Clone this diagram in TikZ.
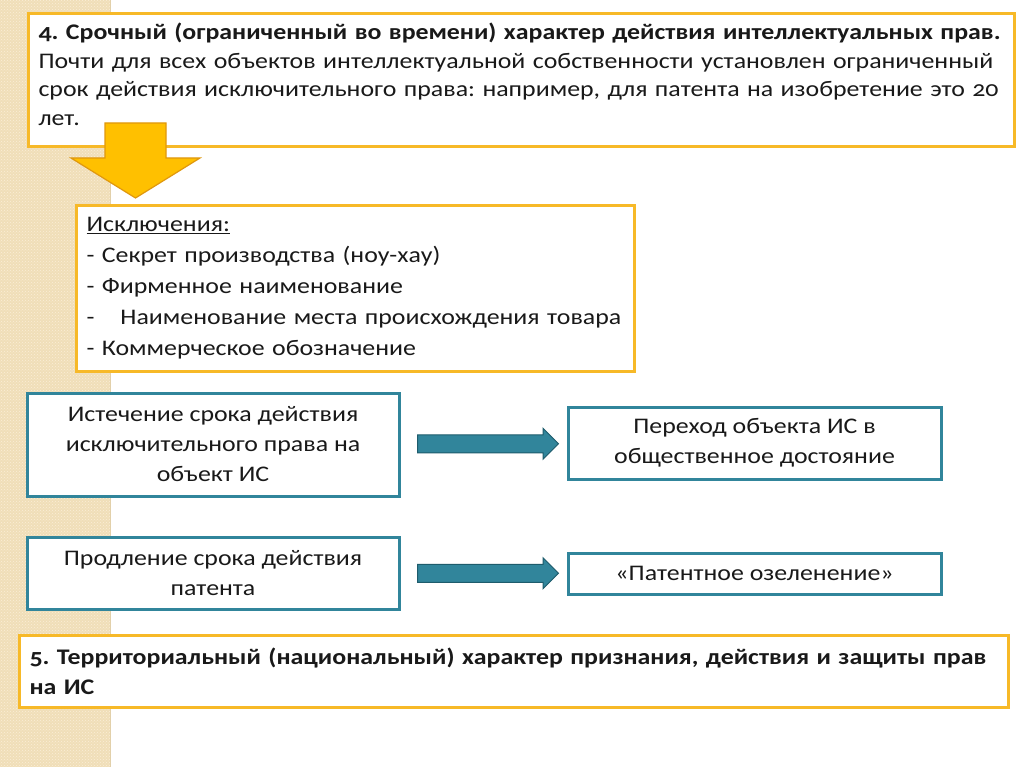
\documentclass[tikz,border=0pt]{standalone}
\usepackage{fontspec}
\setmainfont{Carlito}[Numbers=OldStyle, FakeStretch=1.16]
\usepackage{xcolor}
\usepackage{tikz}
\usetikzlibrary{calc,shapes.arrows,patterns}
\definecolor{ink}{RGB}{25, 25, 25}
\definecolor{gold}{RGB}{247, 185, 40}
\definecolor{sea}{RGB}{49, 133, 155}
\definecolor{seadark}{RGB}{30, 92, 108}
\definecolor{amber}{RGB}{255, 192, 0}
\definecolor{amberdark}{RGB}{224, 152, 14}
\definecolor{sand}{RGB}{240, 222, 184}
\definecolor{sanddot}{RGB}{250, 239, 215}
\definecolor{sandline}{RGB}{226, 208, 170}
\frenchspacing

\tikzset{
  goldbox/.style={draw=gold, line width=3pt, fill=white, text=ink, align=left,
    anchor=north west, inner xsep=10pt, inner ysep=0pt},
  seabox/.style={draw=sea, line width=3pt, fill=white, text=ink, align=center,
    inner sep=0pt},
  seaarrow/.style={single arrow, draw=seadark, fill=sea, line width=1pt,
    minimum height=141pt, inner xsep=0pt, inner ysep=8.5pt,
    single arrow head extend=6.5pt, single arrow tip angle=90},
  amberarrow/.style={draw=amberdark, fill=amber, line width=1.2pt, line join=miter},
}

\begin{document}
\begin{tikzpicture}[x=1pt,y=-1pt]
\useasboundingbox (0,0) rectangle (1024,767);
\fill[white] (0,0) rectangle (1024,767);
% left stripe
\fill[sand] (0,0) rectangle (110,767);
\fill[pattern=crosshatch dots, pattern color=sanddot] (0,0) rectangle (110,767);
\draw[sandline,line width=1pt] (110,0) -- (110,767);

% term of the rights
\node[goldbox, minimum width=985pt, minimum height=133pt, text width=966pt,
  font=\fontsize{22.3}{28.5}\selectfont] (term) at (27,12)
  {\textbf{4. Срочный (ограниченный во времени) характер действия интеллектуальных прав.}\\
   Почти для всех объектов интеллектуальной собственности установлен ограниченный\\
   срок действия исключительного права: например, для патента на изобретение это 20\\
   лет.\par\vspace{11pt}};
\draw[amberarrow] (105,123) -- (166,123) -- (166,158) -- (200,158) -- (135.5,198)
  -- (71,158) -- (105,158) -- cycle;

% exceptions
\node[goldbox, minimum width=558pt, minimum height=166pt, text width=538pt,
  font=\fontsize{22.3}{31}\selectfont] (exc) at (75,204)
  {\underline{Исключения:}\\
   - Секрет производства (ноу-хау)\\
   - Фирменное наименование\\
   \makebox[34pt][l]{-}Наименование места происхождения товара\\
   - Коммерческое обозначение};

% consequences
\node[seabox, minimum width=372pt, minimum height=103pt,
  font=\fontsize{22.3}{30}\selectfont] (expiry) at (213,444.5)
  {Истечение срока действия\\ исключительного права на\\ объект ИС};
\node[seabox, minimum width=373pt, minimum height=72pt,
  font=\fontsize{22.3}{30}\selectfont] (public) at (754.5,443)
  {Переход объекта ИС в\\ общественное достояние};
\node[seabox, minimum width=372pt, minimum height=72pt,
  font=\fontsize{22.3}{30}\selectfont] (renew) at (213,573)
  {Продление срока действия\\ патента};
\node[seabox, minimum width=373pt, minimum height=41pt,
  font=\fontsize{22.3}{30}\selectfont] (green) at (754.5,573.5)
  {«Патентное озеленение»};
\node[seaarrow] (go1) at ($(expiry.east)!0.5!(public.west)$) {};
\node[seaarrow] (go2) at ($(renew.east)!0.5!(green.west)$) {};

% territorial character
\node[goldbox, minimum width=989pt, minimum height=72pt, text width=969pt,
  font=\fontsize{22.3}{30}\selectfont\bfseries] (terr) at (18,634)
  {5. Территориальный (национальный) характер признания, действия и защиты прав\\
   на ИС};
\end{tikzpicture}
\end{document}
